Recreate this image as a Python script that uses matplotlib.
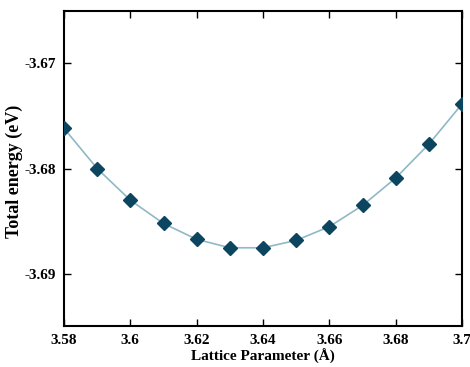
import matplotlib
matplotlib.use("Agg")
import matplotlib.pyplot as plt

plt.rcParams['font.family'] = ['Liberation Serif', 'DejaVu Serif']

lattice = [3.58, 3.59, 3.60, 3.61, 3.62, 3.63, 3.64, 3.65, 3.66, 3.67, 3.68, 3.69, 3.70]
energy = [-3.6762, -3.6800, -3.6830, -3.6852, -3.6867, -3.6875, -3.6875,
          -3.6868, -3.6855, -3.6835, -3.6809, -3.6777, -3.6739]

xticks = [3.58, 3.6, 3.62, 3.64, 3.66, 3.68, 3.7]
xticklabels = ['3.58', '3.6', '3.62', '3.64', '3.66', '3.68', '3.7']
yticks = [-3.69, -3.68, -3.67]
yticklabels = ['-3.69', '-3.68', '-3.67']

fig = plt.figure(figsize=(4.70, 3.67), dpi=100)
ax = fig.add_axes([64/470, 41/367, 398/470, 315/367])

ax.plot(lattice, energy, color='#8fb9c6', lw=1.2, zorder=2)
ax.plot(lattice, energy, ls='none', marker='D', ms=7.5, color='#0b4560', zorder=3)

ax.set_xlim(3.58, 3.70)
ax.set_ylim(-3.6949, -3.6651)
ax.set_xticks(xticks)
ax.set_xticklabels(xticklabels, fontweight='bold')
ax.set_yticks(yticks)
ax.set_yticklabels(yticklabels, fontweight='bold')
ax.tick_params(direction='in', top=True, right=True, length=5, width=1,
               labelsize=11, pad=6)
for s in ax.spines.values():
    s.set_linewidth(1.5)

ax.set_xlabel('Lattice Parameter (Å)', fontsize=11, fontweight='bold', labelpad=1)
ax.set_ylabel('Total energy (eV)', fontsize=13, fontweight='bold')
ax.yaxis.set_label_coords(-41/398, 0.49)

fig.savefig('out.png', dpi=100)
